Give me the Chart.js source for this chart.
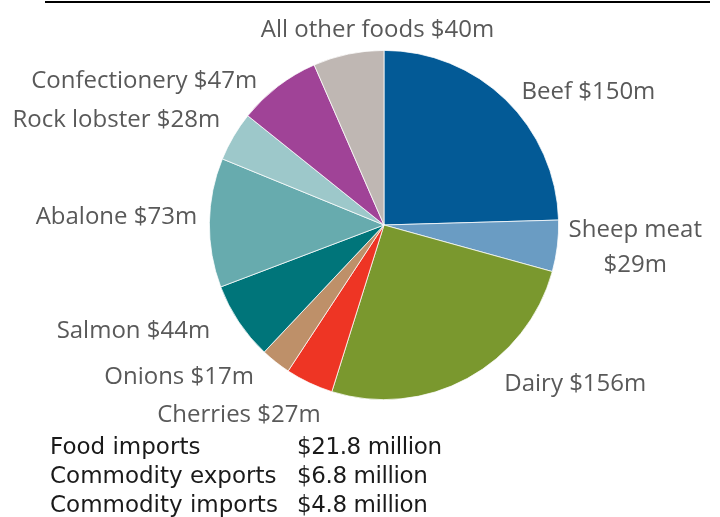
<!DOCTYPE html>
<html lang="en">
<head>
<meta charset="UTF-8" />
<title>Food exports pie</title>
<script src="https://cdn.jsdelivr.net/npm/chart.js@4.4.1/dist/chart.umd.min.js"></script>
<style>
  html, body { margin: 0; padding: 0; background: #fff; }
  #wrap { position: relative; width: 720px; height: 517px; overflow: hidden; }
  #pie { position: absolute; left: 0; top: 0; }
  .rule { position: absolute; left: 45px; top: 1px; width: 665px; height: 2px; background: #000; }
  .slice-label { position: absolute; font-family: "Open Sans", sans-serif; font-size: 24px; color: #595959; white-space: nowrap; text-align: center; line-height: 35px; transform: translate(-50%, -50%); }
  .summary { position: absolute; left: 50px; top: 432px; font-family: "DejaVu Sans", sans-serif; font-size: 23px; line-height: 29px; color: #1a1a1a; }
  .summary .row { position: relative; height: 29px; white-space: nowrap; }
  .summary .val { position: absolute; left: 247px; top: 0; letter-spacing: -0.4px; }
</style>
</head>
<body>
<div id="wrap">
  <canvas id="pie" width="720" height="517"></canvas>
  <div class="rule"></div>
  <div id="labels"></div>
  <div class="summary" id="summary"></div>
</div>

<script>
// slices, clockwise from 12 o'clock
const categories = ["Beef", "Sheep meat", "Dairy", "Cherries", "Onions", "Salmon", "Abalone", "Rock lobster", "Confectionery", "All other foods"];
const values = [150, 29, 156, 27, 17, 44, 73, 28, 47, 40];
const colors = ["#035a96", "#6a9cc3", "#7a982e", "#ee3524", "#be9069", "#00757a", "#67abae", "#9dc8ca", "#a04397", "#bfb7b3"];

// the little table under the pie
const summaryNames = ["Food imports", "Commodity exports", "Commodity imports"];
const summaryValues = ["$21.8 million", "$6.8 million", "$4.8 million"];

// label nudges (px) on top of the plain outside-end placement, like Excel's best fit
const labelNudge = [[29, 4], [2, -5], [69, -16], [-31, 10], [-44, -5], [-33, -6], [-2, -8], [-19, -9], [-59, 8], [55, -6]];

document.getElementById("summary").innerHTML = summaryNames
  .map((n, i) => '<div class="row">' + n + '<span class="val">' + summaryValues[i] + '</span></div>')
  .join("");

const labelBox = document.getElementById("labels");

const outsideLabels = {
  id: "outsideLabels",
  afterDatasetsDraw(chart) {
    labelBox.innerHTML = "";
    const meta = chart.getDatasetMeta(0);
    const W = chart.width;
    meta.data.forEach((arc, i) => {
      const p = arc.getProps(["x", "y", "startAngle", "endAngle", "outerRadius"], true);
      const mid = (p.startAngle + p.endAngle) / 2;
      const cx = Math.cos(mid), cy = Math.sin(mid);
      const r = p.outerRadius + 10;
      const ax = p.x + r * cx, ay = p.y + r * cy;

      const el = document.createElement("div");
      el.className = "slice-label";
      el.textContent = categories[i] + " $" + values[i] + "m";
      labelBox.appendChild(el);
      let w = el.offsetWidth;
      let lines = 1;
      // wrap if it runs off the right/left edge
      if (cx > 0 ? ax + w > W : ax - w < 0) {
        el.innerHTML = categories[i] + "<br>$" + values[i] + "m";
        w = el.offsetWidth;
        lines = 2;
      }
      const h = 22 * lines;
      const x = ax + (w / 2) * cx + labelNudge[i][0];
      const y = ay + (h / 2) * cy + labelNudge[i][1];
      el.style.left = x + "px";
      el.style.top = y + "px";
    });
  },
};

new Chart(document.getElementById("pie"), {
  type: "pie",
  data: {
    labels: categories,
    datasets: [{ data: values, backgroundColor: colors, borderColor: "#ffffff", borderWidth: 0.75 }],
  },
  options: {
    responsive: false,
    animation: false,
    layout: { padding: { left: 209, right: 161, top: 50, bottom: 117 } },
    plugins: { legend: { display: false }, tooltip: { enabled: false } },
  },
  plugins: [outsideLabels],
});
</script>
</body>
</html>
